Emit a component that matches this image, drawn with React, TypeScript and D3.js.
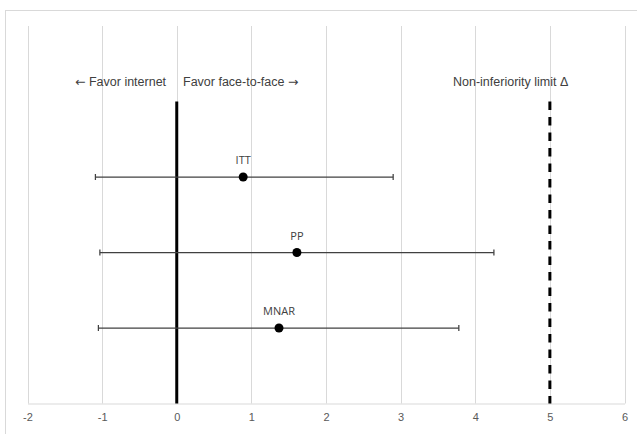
import React, { useEffect, useRef } from 'react';
import * as d3 from 'd3';

// estimates
const labels = ['ITT', 'PP', 'MNAR'];
const rows = [3, 2, 1];
const estimates = [0.89, 1.61, 1.37];
const lower = [-1.09, -1.03, -1.05];
const upper = [2.9, 4.25, 3.78];
const xTicks = [-2, -1, 0, 1, 2, 3, 4, 5, 6];
const limit = 5;

const App: React.FC = () => {
  const svgRef = useRef<SVGSVGElement | null>(null);

  useEffect(() => {
    const width = 637;
    const height = 434;
    const svg = d3.select(svgRef.current).attr('width', width).attr('height', height);
    svg.selectAll('*').remove();

    const xScale = d3.scaleLinear().domain([-2, 6]).range([27.5, 624.5]);
    const yScale = d3.scaleLinear().domain([0, 5]).range([403.5, 26]);
    const font = '"Liberation Sans", Arial, sans-serif';

    // outer chart border
    svg
      .append('rect')
      .attr('x', 5.5)
      .attr('y', 10.5)
      .attr('width', 700)
      .attr('height', 500)
      .attr('fill', '#fff')
      .attr('stroke', '#d9d9d9');

    // gridlines
    svg
      .append('g')
      .selectAll('line')
      .data(xTicks)
      .enter()
      .append('line')
      .attr('x1', (d) => Math.round(xScale(d)) + 0.5)
      .attr('x2', (d) => Math.round(xScale(d)) + 0.5)
      .attr('y1', yScale(5))
      .attr('y2', yScale(0))
      .attr('stroke', '#d9d9d9')
      .attr('stroke-width', 1);

    // x axis
    const xAxis = d3
      .axisBottom(xScale)
      .tickValues(xTicks)
      .tickSize(0)
      .tickPadding(10)
      .tickFormat((d) => String(d));
    const gx = svg.append('g').attr('transform', `translate(0, ${yScale(0)})`).call(xAxis);
    gx.select('.domain').attr('stroke', '#d9d9d9');
    gx.selectAll('text')
      .attr('fill', '#595959')
      .style('font-family', font)
      .style('font-size', '11px');

    // zero line
    svg
      .append('line')
      .attr('x1', xScale(0))
      .attr('x2', xScale(0))
      .attr('y1', yScale(4))
      .attr('y2', yScale(0))
      .attr('stroke', '#000')
      .attr('stroke-width', 3);

    // non-inferiority limit
    svg
      .append('line')
      .attr('x1', xScale(limit))
      .attr('x2', xScale(limit))
      .attr('y1', yScale(4))
      .attr('y2', yScale(0))
      .attr('stroke', '#000')
      .attr('stroke-width', 3)
      .attr('stroke-dasharray', '8.5,7');

    // error bars
    const g = svg.append('g');
    labels.forEach((lab, i) => {
      const y = yScale(rows[i]);
      g.append('line')
        .attr('x1', xScale(lower[i]))
        .attr('x2', xScale(upper[i]))
        .attr('y1', y)
        .attr('y2', y)
        .attr('stroke', '#404040')
        .attr('stroke-width', 1.25);
      [lower[i], upper[i]].forEach((v) => {
        g.append('line')
          .attr('x1', xScale(v))
          .attr('x2', xScale(v))
          .attr('y1', y - 3)
          .attr('y2', y + 3)
          .attr('stroke', '#404040')
          .attr('stroke-width', 1.25);
      });
      g.append('circle')
        .attr('cx', xScale(estimates[i]))
        .attr('cy', y)
        .attr('r', 4.5)
        .attr('fill', '#000');
      g.append('text')
        .attr('x', xScale(estimates[i]))
        .attr('y', y - 13)
        .attr('text-anchor', 'middle')
        .attr('fill', '#404040')
        .style('font-family', '"Open Sans", Arial, sans-serif')
        .style('font-size', '11px')
        .text(lab);
    });

    // annotations
    const arrowFont = '"DejaVu Sans", sans-serif';
    const t1 = svg.append('text').attr('x', 75).attr('y', 86).attr('fill', '#404040')
      .style('font-family', font).style('font-size', '12.5px');
    t1.append('tspan').style('font-family', arrowFont).text('←');
    t1.append('tspan').text(' Favor internet');

    const t2 = svg.append('text').attr('x', 183).attr('y', 86).attr('fill', '#404040')
      .style('font-family', font).style('font-size', '12.5px');
    t2.append('tspan').text('Favor face-to-face ');
    t2.append('tspan').style('font-family', arrowFont).text('→');

    svg.append('text').attr('x', 453).attr('y', 86).attr('fill', '#404040')
      .style('font-family', font).style('font-size', '12.5px')
      .text('Non-inferiority limit Δ');
  }, []);

  return <svg ref={svgRef} style={{ position: 'absolute', left: 0, top: 0 }}></svg>;
};

export default App;
